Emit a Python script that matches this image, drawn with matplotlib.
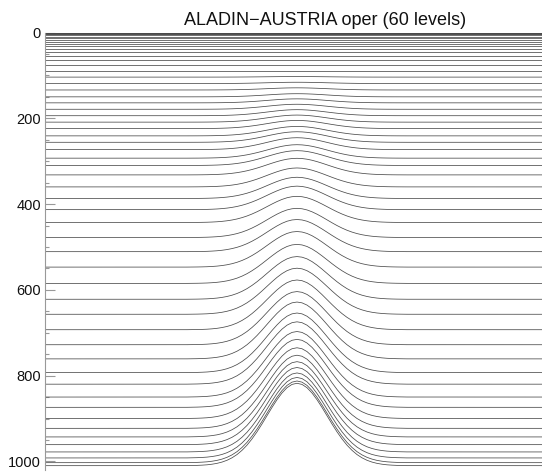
import numpy as np
import matplotlib
matplotlib.use("Agg")
import matplotlib.pyplot as plt
from matplotlib.ticker import MultipleLocator

plt.rcParams['font.family'] = ['Liberation Sans', 'DejaVu Sans']

# far-field pressure of each model level (hPa)
p_far = [0, 0.5, 1, 1.5, 2.2, 3, 4, 5, 10, 13.5, 18, 22, 27, 32, 38, 45, 55, 65, 76, 90,
         104, 119, 134, 150, 164, 179, 194, 209, 224, 241,
         256, 273, 293, 310, 332, 360, 387, 413, 443, 478,
         511, 547, 585, 622, 657, 693, 728, 761, 793, 820,
         850, 874, 900, 923, 943, 961, 978, 992, 1003, 1010]
# pressure of each level above the mountain summit (hPa)
p_peak = [0, 0.5, 1, 1.5, 2.2, 3, 4, 5, 10, 13.5, 18, 22, 27, 32, 38, 45, 55, 65, 76, 90,
          102.7, 116, 129, 142.7, 154.7, 167.3, 179.9, 192.5, 205, 219,
          231.4, 245.3, 261.6, 275.5, 293.3, 315.8, 337.5, 358.2, 382, 410,
          436, 464, 494, 522.4, 549.5, 577, 604, 628.4, 654, 674.5,
          697.1, 715.4, 735, 752.4, 767.4, 781, 793.7, 804.2, 812.5, 817.8]

# surface pressure profile across the mountain (offset from summit, km)
terrain_dx = [0, 5, 10, 15, 20, 25, 30, 35, 40, 45, 50, 55, 60, 65, 70, 75, 80, 85, 90,
              95, 100, 110, 400]
terrain_ps = [820, 822.7, 830.4, 842.7, 858.5, 876.6, 895.9, 915.3, 933.7, 950.3, 964.9,
              977, 986.9, 994.5, 1000.3, 1004.5, 1007.5, 1009.5, 1010.9,
              1011.7, 1012.25, 1012.8, 1013]
ps_far = 1013
ps_summit = 820

title = "ALADIN\u2212AUSTRIA oper (60 levels)"

fig = plt.figure(figsize=(5.42, 4.74), dpi=100)
ax = fig.add_axes([45/542, 4/474, 561/542, 437.5/474])

dx = np.array(terrain_dx, dtype=float)
ps = np.array(terrain_ps, dtype=float)
x = np.concatenate([-dx[::-1], dx[1:]])
psx = np.concatenate([ps[::-1], ps[1:]])
shape = (ps_far - psx) / (ps_far - ps_summit)

for pf, pp in zip(p_far, p_peak):
    ax.plot(x, pf + (pp - pf) * shape, color='#4a4a4a', lw=0.55, solid_capstyle='butt')

ax.set_xlim(-252, 309)
ax.set_ylim(1020, 0)
for s in ['top', 'right', 'bottom']:
    ax.spines[s].set_visible(False)
ax.spines['left'].set_color('#999999')
ax.spines['left'].set_linewidth(0.8)
ax.set_xticks([])
ax.yaxis.set_major_locator(MultipleLocator(200))
ax.yaxis.set_minor_locator(MultipleLocator(50))
ax.tick_params(axis='y', which='major', direction='in', length=7, width=0.8,
               color='#999999', labelsize=10.5, pad=3, labelcolor='#111111')
ax.tick_params(axis='y', which='minor', direction='in', length=3.2, width=0.8,
               color='#999999')
ax.set_title(title, fontsize=13, pad=5.5, color='#111111')

fig.savefig("out.png", dpi=100)
